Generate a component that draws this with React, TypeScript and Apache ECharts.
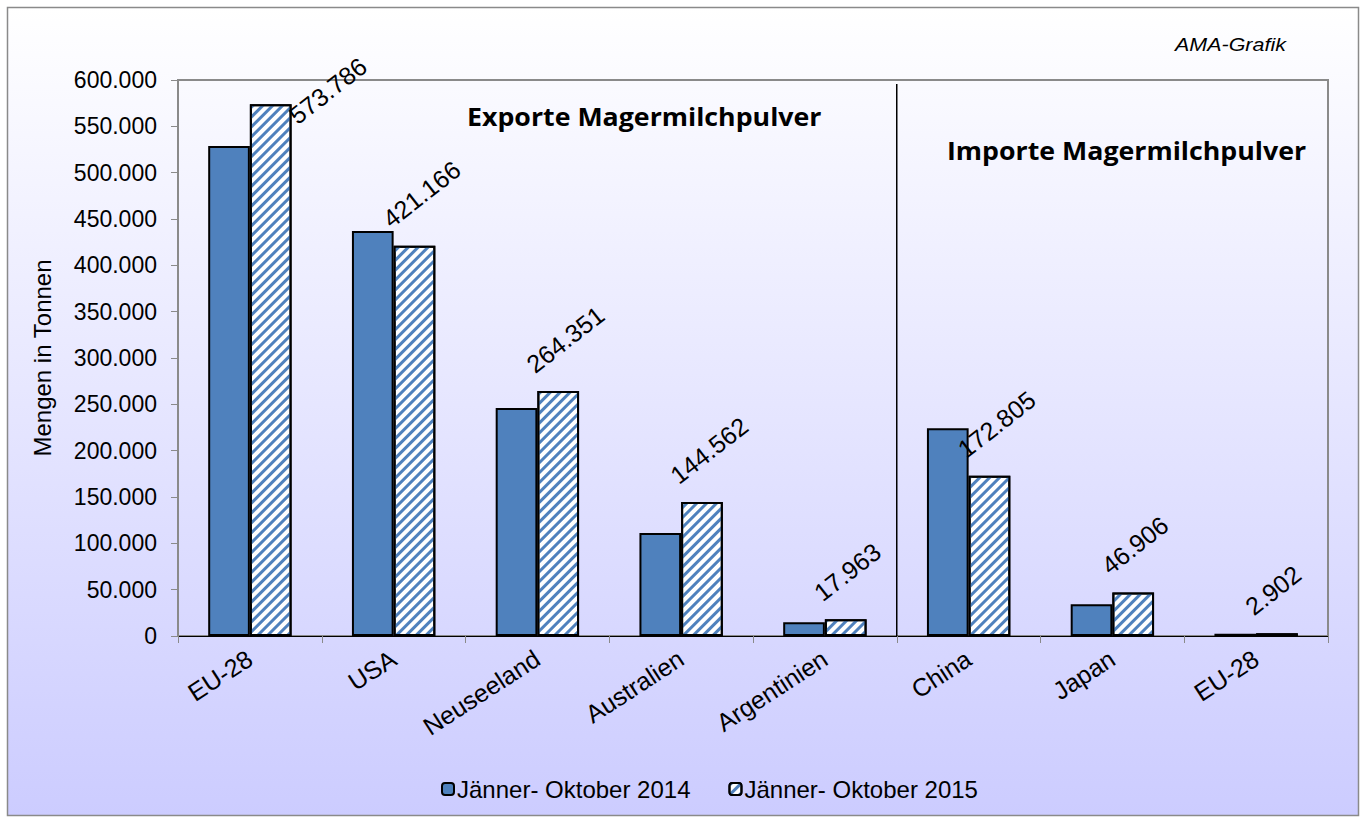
import React, { useEffect, useRef } from "react";
import * as echarts from "echarts";

const categories = ["EU-28", "USA", "Neuseeland", "Australien", "Argentinien", "China", "Japan", "EU-28"];
const series2014Name = "Jänner- Oktober 2014";
const series2015Name = "Jänner- Oktober 2015";
const values2014 = [528800, 437000, 246000, 111200, 14800, 224100, 34200, 2300];
const values2015 = [573786, 421166, 264351, 144562, 17963, 172805, 46906, 2902];
const exportTitle = "Exporte Magermilchpulver";
const importTitle = "Importe Magermilchpulver";
const sourceNote = "AMA-Grafik";
const yAxisName = "Mengen in Tonnen";
const yMax = 600000;
const yInterval = 50000;

const FONT = "'Liberation Sans', Arial, sans-serif";
const BLUE = "#4f81bd";

const fmt = (v: number) => (v === 0 ? "0" : String(v).replace(/\B(?=(\d{3})+(?!\d))/g, "."));

export default function App() {
  const ref = useRef<HTMLDivElement>(null);
  useEffect(() => {
    const el = ref.current;
    if (!el) return;
    const chart = echarts.init(el, null, { renderer: "svg" });
    const W = 1366;
    const H = 819;
    const option: any = {
      animation: false,
      backgroundColor: "#ffffff",
      grid: {
        left: 178,
        top: 80,
        right: 38,
        bottom: 183,
        show: true,
        borderColor: "#8a8a8a",
        borderWidth: 2,
        backgroundColor: "transparent",
      },
      legend: {
        left: 436,
        top: 772,
        itemWidth: 12,
        itemHeight: 12,
        itemGap: 38,
        textStyle: { fontFamily: FONT, fontSize: 24, color: "#000", padding: [0, 0, 0, -2] },
        data: [series2014Name, series2015Name],
      },
      xAxis: {
        type: "category",
        data: categories,
        axisLine: { show: true, lineStyle: { color: "#000", width: 1 } },
        axisTick: { show: true, length: 7, lineStyle: { color: "#8a8a8a" } },
        axisLabel: {
          rotate: 33,
          margin: 20,
          interval: 0,
          fontFamily: FONT,
          fontSize: 25,
          color: "#000",
        },
      },
      yAxis: {
        type: "value",
        min: 0,
        max: yMax,
        interval: yInterval,
        name: yAxisName,
        nameLocation: "middle",
        nameGap: 124,
        nameTextStyle: { fontFamily: FONT, fontSize: 24, color: "#000" },
        axisLine: { show: true, lineStyle: { color: "#8a8a8a", width: 2 } },
        axisTick: { show: true, length: 7, lineStyle: { color: "#8a8a8a" } },
        splitLine: { show: false },
        axisLabel: {
          margin: 21,
          fontFamily: FONT,
          fontSize: 23,
          color: "#000",
          formatter: (v: number) => fmt(v),
        },
      },
      series: [
        {
          name: series2014Name,
          type: "bar",
          data: values2014,
          barWidth: "29%",
          barGap: "0%",
          itemStyle: { color: BLUE, borderColor: "#000", borderWidth: 2 },
        },
        {
          name: series2015Name,
          type: "bar",
          data: values2015.map((v, i) =>
            i === 0
              ? { value: v, label: { position: [50, 24] } }
              : { value: v }
          ),
          barWidth: "29%",
          barGap: "0%",
          itemStyle: {
            color: "#ffffff",
            borderColor: "#000",
            borderWidth: 2,
            decal: {
              symbol: "rect",
              dashArrayX: [1, 0],
              dashArrayY: [3, 4],
              rotation: -Math.PI / 4,
              color: BLUE,
            },
          },
          label: {
            show: true,
            position: [0, -14],
            rotate: 38,
            align: "left",
            verticalAlign: "bottom",
            fontFamily: FONT,
            fontSize: 25,
            color: "#000",
            formatter: (p: any) => fmt(p.value),
          },
        },
      ],
      graphic: [
        {
          id: "frame",
          type: "rect",
          z: -10,
          silent: true,
          shape: { x: 7.5, y: 7.5, width: W - 15, height: H - 11 },
          style: {
            fill: new echarts.graphic.LinearGradient(0, 0, 0, 1, [
              { offset: 0, color: "#ffffff" },
              { offset: 1, color: "#ccccff" },
            ]),
            stroke: "#8a8a8a",
            lineWidth: 1.5,
          },
        },
        {
          id: "note",
          type: "text",
          x: 1175,
          y: 35,
          scaleX: 1.13,
          style: {
            text: sourceNote,
            font: `italic 19px ${FONT}`,
            fill: "#000",
          },
        },
        {
          id: "exportTitle",
          type: "text",
          x: 467,
          y: 104,
          scaleX: 1.07,
          style: {
            text: exportTitle,
            font: `bold 25px 'Open Sans', sans-serif`,
            fill: "#000",
          },
        },
        {
          id: "importTitle",
          type: "text",
          x: 947,
          y: 138,
          scaleX: 1.07,
          style: {
            text: importTitle,
            font: `bold 25px 'Open Sans', sans-serif`,
            fill: "#000",
          },
        },
        {
          id: "divider",
          type: "line",
          z: 10,
          silent: true,
          shape: { x1: 0, y1: 0, x2: 0, y2: 0 },
          style: { stroke: "#000", lineWidth: 1.5 },
        },
      ],
    };
    chart.setOption(option);

    const xa = chart.convertToPixel({ xAxisIndex: 0 }, 4) as number;
    const xb = chart.convertToPixel({ xAxisIndex: 0 }, 5) as number;
    const yTop = chart.convertToPixel({ yAxisIndex: 0 }, yMax) as number;
    const yBot = chart.convertToPixel({ yAxisIndex: 0 }, 0) as number;
    const xm = (xa + xb) / 2;
    chart.setOption({
      graphic: [
        {
          id: "divider",
          type: "line",
          shape: { x1: xm, y1: yTop + 4, x2: xm, y2: yBot },
        },
      ],
    });

    return () => chart.dispose();
  }, []);
  return (
    <div
      ref={ref}
      style={{ position: "fixed", left: 0, top: 0, width: 1366, height: 819 }}
    />
  );
}
